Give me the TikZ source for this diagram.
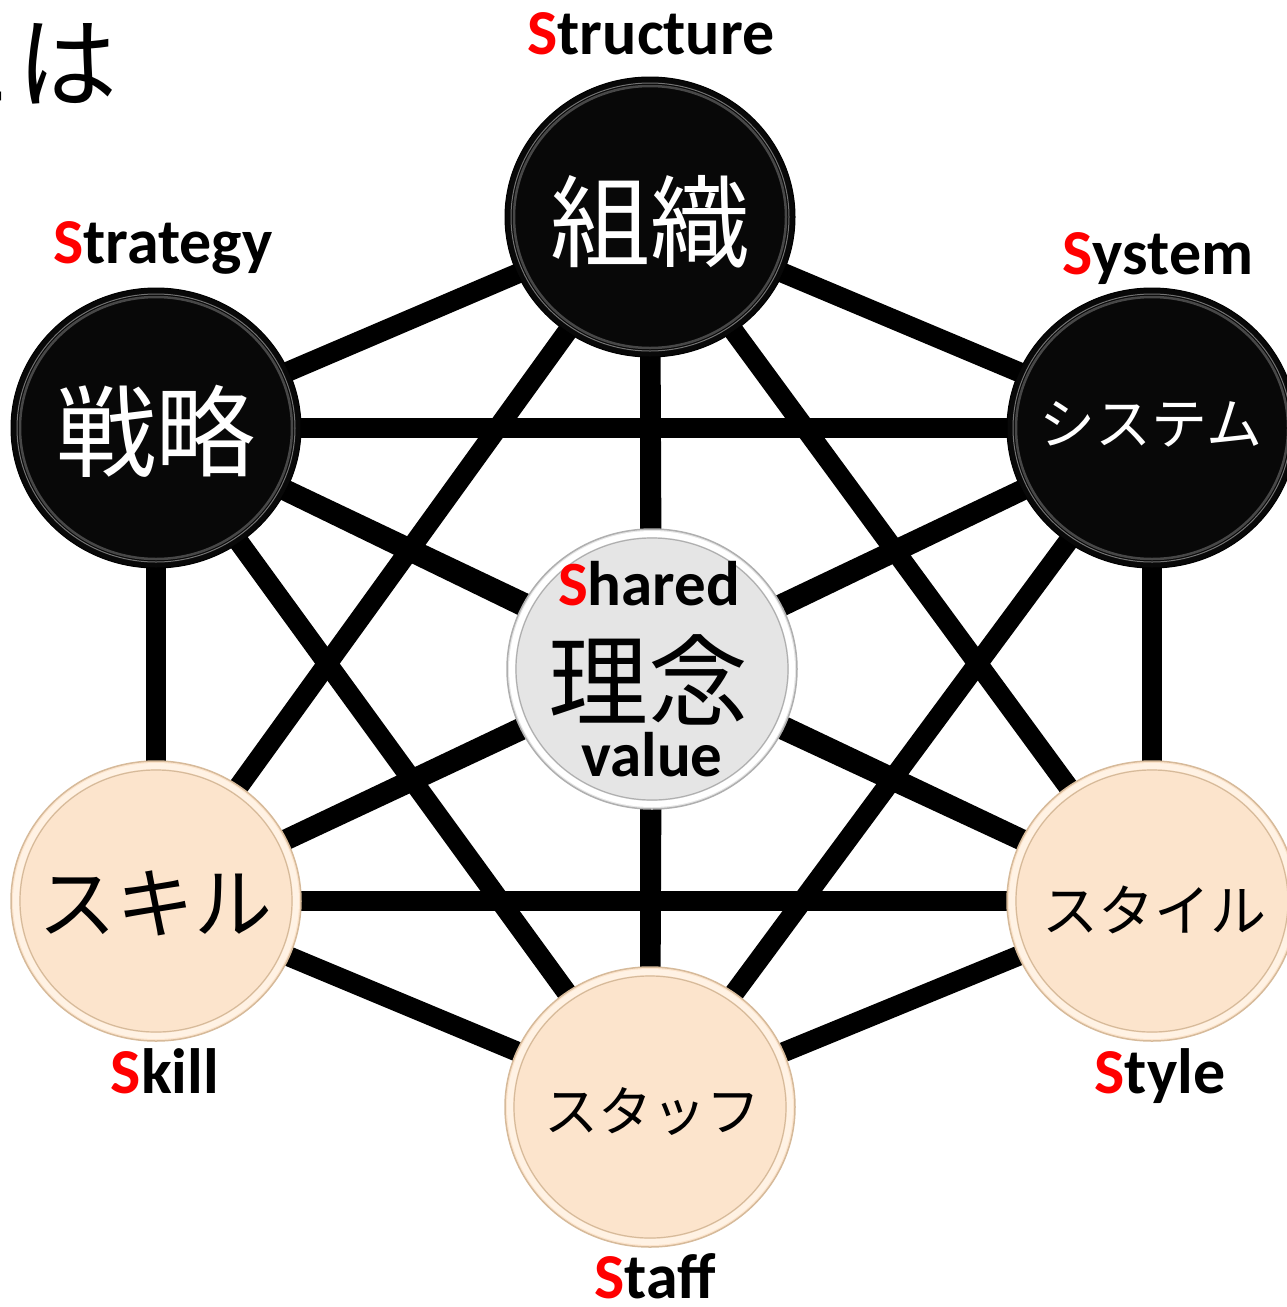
\documentclass[tikz,border=0pt]{standalone}
\usepackage{fontspec}
\setmainfont{Carlito}
\newfontfamily\jp{Noto Sans CJK JP}
\usetikzlibrary{shapes.geometric,backgrounds}
\definecolor{beigefill}{RGB}{252,228,204}
\definecolor{beigerim}{RGB}{214,186,154}
\definecolor{beigelight}{RGB}{255,242,228}
\definecolor{grayfill}{RGB}{229,229,229}
\definecolor{grayrim}{RGB}{175,175,175}
\definecolor{labred}{RGB}{255,0,0}
\tikzset{
  link/.style={line width=20pt, black},
  btn/.style={ellipse, minimum width=290pt, minimum height=280pt, inner sep=0pt},
  blackbtn/.style={btn, fill=black!97, draw=black, line width=1pt,
    path picture={
      \draw[line width=2.5pt, black!72] (path picture bounding box.center) ellipse (136pt and 131pt);
      \draw[line width=1pt, black!55] (path picture bounding box.center) ellipse (139pt and 134pt);
    }},
  beigebtn/.style={btn, fill=beigefill, draw=beigerim, line width=1.5pt,
    path picture={
      \draw[line width=6pt, beigelight] (path picture bounding box.center) ellipse (140pt and 135pt);
      \draw[line width=1.2pt, beigerim] (path picture bounding box.center) ellipse (136pt and 131pt);
    }},
  graybtn/.style={btn, fill=grayfill, draw=grayrim, line width=1.5pt,
    path picture={
      \draw[line width=6pt, white] (path picture bounding box.center) ellipse (140pt and 135pt);
      \draw[line width=1.2pt, grayrim] (path picture bounding box.center) ellipse (136pt and 131pt);
    }},
  lbl/.style={anchor=base, inner sep=0pt, font=\bfseries\fontsize{64}{64}\selectfont},
  jptxt/.style={inner sep=0pt, font=\jp\fontsize{#1}{#1}\selectfont},
}
\begin{document}
\begin{tikzpicture}[x=1pt,y=-1pt]
\useasboundingbox (0,0) rectangle (1287,1307);

% title fragment
\node[anchor=base east, inner sep=0pt, font=\jp\fontsize{100}{100}\selectfont] (title) at (118,100) {とは};

% buttons
\node[blackbtn] (T)  at (650,217) {};
\node[blackbtn] (UL) at (156,428) {};
\node[blackbtn] (UR) at (1152,428) {};
\node[graybtn]  (C)  at (652,669) {};
\node[beigebtn] (LL) at (156,901) {};
\node[beigebtn] (LR) at (1152,901) {};
\node[beigebtn] (B)  at (650,1107) {};

% connectors
\begin{scope}[on background layer]
\foreach \a/\b in {T/UL,T/UR,T/C,T/LL,T/LR,T/B,UL/UR,UL/C,UL/LL,UL/LR,UL/B,UR/C,UR/LL,UR/LR,UR/B,C/LL,C/LR,C/B,LL/LR,LL/B,LR/B}
  \draw[link] (\a.center) -- (\b.center);
\end{scope}

% button texts
\node[jptxt=100, text=white] (tT)  at (650,222) {組織};
\node[jptxt=100, text=white] (tUL) at (156,431) {戦略};
\node[jptxt=56,  text=white] (tUR) at (1151,424) {システム};
\node[jptxt=78]  (tLL) at (155,903) {スキル};
\node[jptxt=56]  (tLR) at (1154,910) {スタイル};
\node[jptxt=54]  (tB)  at (652,1112) {スタッフ};

% center texts
\node[anchor=base, inner sep=0pt, font=\bfseries\fontsize{63}{63}\selectfont] (cS) at (649,605) {\textcolor{labred}{S}hared};
\node[jptxt=100] (cJ) at (648,680) {理念};
\node[anchor=base, inner sep=0pt, font=\bfseries\fontsize{63}{63}\selectfont] (cV) at (652,776) {value};

% outer labels
\node[lbl] (lT)  at (651,54)   {\textcolor{labred}{S}tructure};
\node[lbl] (lUL) at (163,263)  {\textcolor{labred}{S}trategy};
\node[lbl] (lUR) at (1158,274) {\textcolor{labred}{S}ystem};
\node[lbl] (lLL) at (165,1093) {\textcolor{labred}{S}kill};
\node[lbl] (lLR) at (1160,1093) {\textcolor{labred}{S}tyle};
\node[lbl] (lB)  at (655,1298) {\textcolor{labred}{S}taff};
\end{tikzpicture}
\end{document}
